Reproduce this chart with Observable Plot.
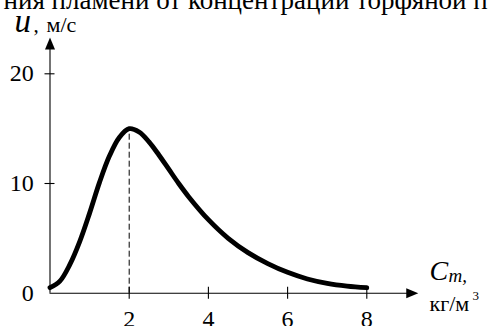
<!DOCTYPE html>
<html>
<head>
<meta charset="utf-8">
<script src="https://cdn.jsdelivr.net/npm/d3@7"></script>
<script src="https://cdn.jsdelivr.net/npm/@observablehq/plot@0.6"></script>
<style>
  html, body { margin: 0; padding: 0; background: #fff; overflow: hidden; }
  svg text { font-family: "Liberation Serif", "DejaVu Serif", serif; }
</style>
</head>
<body>
<div id="chart"></div>
<script>
// Flame propagation speed u (m/s) versus peat dust concentration C_m (kg/m³)
const concentration = [0, 0.25, 0.5, 0.75, 1, 1.25, 1.5, 1.75, 2, 2.25, 2.5, 2.75, 3, 3.25, 3.5, 4, 4.5, 5, 5.5, 6, 6.5, 7, 7.5, 8];
const speed         = [0.5, 1.1, 2.6, 4.7, 7.3, 10.1, 12.5, 14.2, 15.0, 14.7, 13.8, 12.6, 11.3, 10.0, 8.8, 6.7, 5.0, 3.7, 2.7, 1.9, 1.3, 0.9, 0.65, 0.5];
const xTicks = [2, 4, 6, 8];
const yTicks = [10, 20];
const yTickLabels = [0, 10, 20];
const xAxisEnd = 9.3;   // arrow tip of the C axis
const yAxisEnd = 23.3;  // arrow tip of the u axis
const captionLine = "ния пламени от концентрации торфяной пыли";

const points = concentration.map((c, i) => ({c, u: speed[i]}));
const peak = points.reduce((a, b) => (b.u > a.u ? b : a));

// filled arrowhead pointing up, tip at the origin
const arrowHead = {
  draw(ctx) {
    ctx.moveTo(0, 0);
    ctx.lineTo(5, 12);
    ctx.lineTo(-5, 12);
    ctx.closePath();
  }
};

const W = 488, H = 326;
const mLeft = 49.5, mBottom = 33.3;
const serif = "Liberation Serif";

// text placed relative to the top-left corner of the picture
const label = (str, x, baseline, opts = {}) =>
  Plot.text([str], {
    text: d => d,
    frameAnchor: "top-left",
    dx: x - mLeft,
    dy: baseline,
    textAnchor: "start",
    lineAnchor: "bottom",
    fontFamily: serif,
    fill: "black",
    ...opts
  });

const chart = Plot.plot({
  width: W,
  height: H,
  marginLeft: mLeft,
  marginBottom: mBottom,
  marginTop: 0,
  marginRight: 0,
  style: {fontFamily: serif, fontSize: "24px", background: "white", color: "black"},
  x: {domain: [0, 8], range: [mLeft, 366.3]},
  y: {domain: [0, 20], range: [H - mBottom, 73.3]},
  marks: [
    // axes with arrows
    Plot.ruleY([0], {x1: 0, x2: xAxisEnd - 0.2, stroke: "black", strokeWidth: 1.1}),
    Plot.ruleX([0], {y1: 0, y2: yAxisEnd - 0.5, stroke: "black", strokeWidth: 1.1}),
    Plot.dot([{c: 0, u: yAxisEnd}], {x: "c", y: "u", symbol: arrowHead, fill: "black", stroke: null}),
    Plot.dot([{c: xAxisEnd, u: 0}], {x: "c", y: "u", symbol: arrowHead, fill: "black", stroke: null, rotate: 90}),
    // crossing tick marks
    Plot.axisY({ticks: yTicks, tickSize: 10, dx: 5, tickFormat: () => "", stroke: "black", strokeWidth: 1.1, label: null}),
    Plot.axisX({ticks: xTicks, tickSize: 12, dy: -6, tickFormat: () => "", stroke: "black", strokeWidth: 1.1, label: null}),
    // tick labels
    Plot.axisY({ticks: yTickLabels, tickSize: 0, tickPadding: 16.2, fontSize: 24, fontFamily: serif, fill: "black", label: null, fontVariant: "normal"}),
    Plot.axisX({ticks: xTicks, tickSize: 0, tickPadding: 16.3, fontSize: 24, fontFamily: serif, fill: "black", label: null, fontVariant: "normal"}),
    // dashed drop line at the maximum
    Plot.ruleX([peak], {x: "c", y1: 0, y2: "u", stroke: "black", strokeWidth: 1, strokeDasharray: "6,3"}),
    // the curve
    Plot.line(points, {x: "c", y: "u", stroke: "black", strokeWidth: 4.8, curve: "catmull-rom", strokeLinecap: "round"}),
    // axis titles
    label("u", 14, 31.5, {fontSize: 33, fontStyle: "italic"}),
    label(",", 33, 31.5, {fontSize: 21}),
    label("м/с", 46, 31.5, {fontSize: 22}),
    label("C", 429, 279, {fontSize: 28, fontStyle: "italic"}),
    label("m,", 448, 281, {fontSize: 19, fontStyle: "italic"}),
    label("кг/м", 429, 310, {fontSize: 22}),
    label("3", 472, 299, {fontSize: 13}),
    // clipped caption line at the top edge
    label(captionLine, 3, 8, {fontSize: 27})
  ]
});

document.getElementById("chart").appendChild(chart);
</script>
</body>
</html>
